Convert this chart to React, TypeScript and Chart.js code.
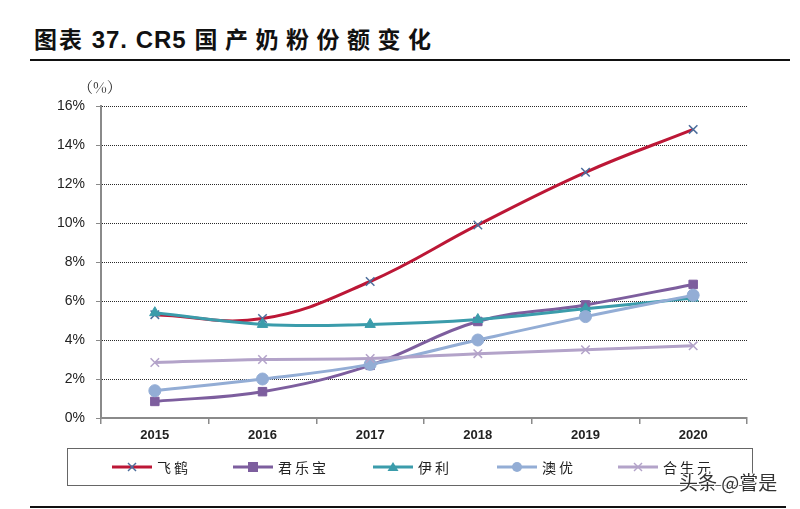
import React, { useEffect, useRef } from "react";
import { Chart, registerables } from "chart.js";

Chart.register(...registerables);

const titleLead = "图表";
const titleNum = " 37. CR5 ";
const titleMain = "国产奶粉份额变化";
const unitLabel = "（%）";
const years = ["2015", "2016", "2017", "2018", "2019", "2020"];
const feihe = [5.3, 5.1, 7.0, 9.9, 12.6, 14.8];
const junlebao = [0.85, 1.35, 2.7, 4.95, 5.8, 6.85];
const yili = [5.4, 4.8, 4.8, 5.05, 5.6, 6.15];
const aoyou = [1.4, 2.0, 2.75, 4.0, 5.2, 6.3];
const heshengyuan = [2.85, 3.0, 3.05, 3.3, 3.5, 3.7];
const seriesNames = ["飞鹤", "君乐宝", "伊利", "澳优", "合生元"];
const yTicks = [0, 2, 4, 6, 8, 10, 12, 14, 16];

const colors = ["#BC1736", "#7D5E9E", "#3B9CAB", "#93ADD5", "#B3A3C9"];
const markerColors = ["#4C6E9C", "#7D5E9E", "#3B9CAB", "#93ADD5", "#B3A3C9"];
const markerStyles = ["crossRot", "rect", "triangle", "circle", "crossRot"];
const markerSizes = [6, 6, 6, 6, 6];

function LegendIcon({ i }: { i: number }) {
  const c = colors[i];
  const m = markerColors[i];
  const style = markerStyles[i];
  let marker: any = null;
  if (style === "crossRot")
    marker = (
      <g stroke={m} strokeWidth={1.5}>
        <line x1={16} y1={3} x2={24} y2={11} />
        <line x1={16} y1={11} x2={24} y2={3} />
      </g>
    );
  else if (style === "rect") marker = <rect x={15} y={2} width={10} height={10} fill={m} />;
  else if (style === "triangle") marker = <polygon points="20,2 25.5,11 14.5,11" fill={m} />;
  else marker = <circle cx={20} cy={7} r={5} fill={m} />;
  return (
    <svg width={40} height={14} style={{ display: "block" }}>
      <line x1={0} y1={7} x2={40} y2={7} stroke={c} strokeWidth={3} />
      {marker}
    </svg>
  );
}

export default function App() {
  const ref = useRef<HTMLCanvasElement>(null);
  useEffect(() => {
    const data = [feihe, junlebao, yili, aoyou, heshengyuan];
    const chart = new Chart(ref.current!, {
      type: "line",
      data: {
        labels: years,
        datasets: seriesNames.map((n, i) => ({
          label: n,
          data: data[i],
          borderColor: colors[i],
          backgroundColor: markerColors[i],
          borderWidth: 3,
          tension: 0.4,
          pointStyle: markerStyles[i] as any,
          pointRadius: markerSizes[i],
          pointBorderColor: markerColors[i],
          pointBackgroundColor: markerColors[i],
          pointBorderWidth: markerStyles[i] === "crossRot" ? 1.5 : 1,
          fill: false,
        })).reverse(),
      },
      options: {
        responsive: false,
        animation: false,
        devicePixelRatio: 1,
        layout: { padding: { top: 106, right: 53, left: 0, bottom: 0 } },
        plugins: { legend: { display: false }, tooltip: { enabled: false } },
        scales: {
          x: {
            offset: true,
            afterFit: (s: any) => { s.height = 91; },
            grid: {
              offset: true,
              drawOnChartArea: false,
              drawTicks: true,
              tickLength: 6,
              color: "#8a8a8a",
              lineWidth: 1.5,
            },
            border: { display: true, color: "#8a8a8a", width: 2 },
            ticks: {
              color: "#222",
              font: { family: "Liberation Sans, Arial", size: 13, weight: "bold" },
              padding: 4,
            },
          },
          y: {
            min: 0,
            max: 16,
            afterFit: (s: any) => { s.width = 101; },
            afterBuildTicks: (s: any) => { s.ticks = yTicks.map((v) => ({ value: v })); },
            grid: {
              color: "#2a2a2a",
              lineWidth: 1,
              drawTicks: true,
              tickLength: 5,
              tickColor: "#8a8a8a",
              tickBorderDash: [],
            },
            border: { display: true, color: "#8a8a8a", width: 2, dash: [1, 1] },
            ticks: {
              color: "#222",
              font: { family: "Liberation Sans, Arial", size: 14 },
              padding: 11,
              callback: (v: any) => v + "%",
            },
          },
        },
      },
    });
    return () => chart.destroy();
  }, []);

  const legendPos = [112, 233, 373, 497, 618];
  const cjkTitle = { fontFamily: "'Noto Sans CJK SC', sans-serif", fontWeight: 700, fontSize: 23 };
  return (
    <div style={{ position: "absolute", left: 0, top: 0, width: 800, height: 509, background: "#fff", overflow: "hidden" }}>
      <div
        style={{
          position: "absolute",
          left: 34,
          top: 22,
          color: "#111",
          whiteSpace: "pre",
          lineHeight: "32px",
        }}
      >
        <span style={{ ...cjkTitle, letterSpacing: 2 }}>{titleLead}</span>
        <span style={{ fontFamily: "'Liberation Sans', Arial", fontWeight: 700, fontSize: 24, letterSpacing: 1 }}>{titleNum}</span>
        <span style={{ ...cjkTitle, letterSpacing: 7.5 }}>{titleMain}</span>
      </div>
      <div style={{ position: "absolute", left: 30, top: 59, width: 760, height: 2, background: "#111" }} />
      <canvas ref={ref} width={800} height={509} style={{ position: "absolute", left: 0, top: 0 }} />
      <div
        style={{
          position: "absolute",
          left: 78,
          top: 76,
          fontFamily: "'Noto Serif CJK SC', 'DejaVu Serif', serif",
          fontSize: 15,
          color: "#333",
          whiteSpace: "nowrap",
        }}
      >
        {unitLabel}
      </div>
      <div
        style={{
          position: "absolute",
          left: 67,
          top: 448,
          width: 686,
          height: 38,
          border: "1.5px solid #666",
          boxSizing: "border-box",
        }}
      />
      {seriesNames.map((n, i) => (
        <div
          key={n}
          style={{
            position: "absolute",
            left: legendPos[i],
            top: 457,
            height: 20,
            display: "flex",
            alignItems: "center",
            whiteSpace: "nowrap",
          }}
        >
          <LegendIcon i={i} />
          <span
            style={{
              marginLeft: 5,
              fontFamily: "'Noto Sans CJK SC', sans-serif",
              fontSize: 14,
              letterSpacing: 3,
              color: "#222",
            }}
          >
            {n}
          </span>
        </div>
      ))}
      <div
        style={{
          position: "absolute",
          left: 679,
          top: 469,
          fontFamily: "'Noto Sans CJK SC', sans-serif",
          fontSize: 19,
          color: "#333",
          whiteSpace: "nowrap",
          textShadow: "1px 0 0 #fff, -1px 0 0 #fff, 0 1px 0 #fff, 0 -1px 0 #fff, 0 0 3px #fff",
          lineHeight: "26px",
        }}
      >
        头条 @嘗是
      </div>
      <div style={{ position: "absolute", left: 30, top: 506, width: 756, height: 2, background: "#111" }} />
    </div>
  );
}
